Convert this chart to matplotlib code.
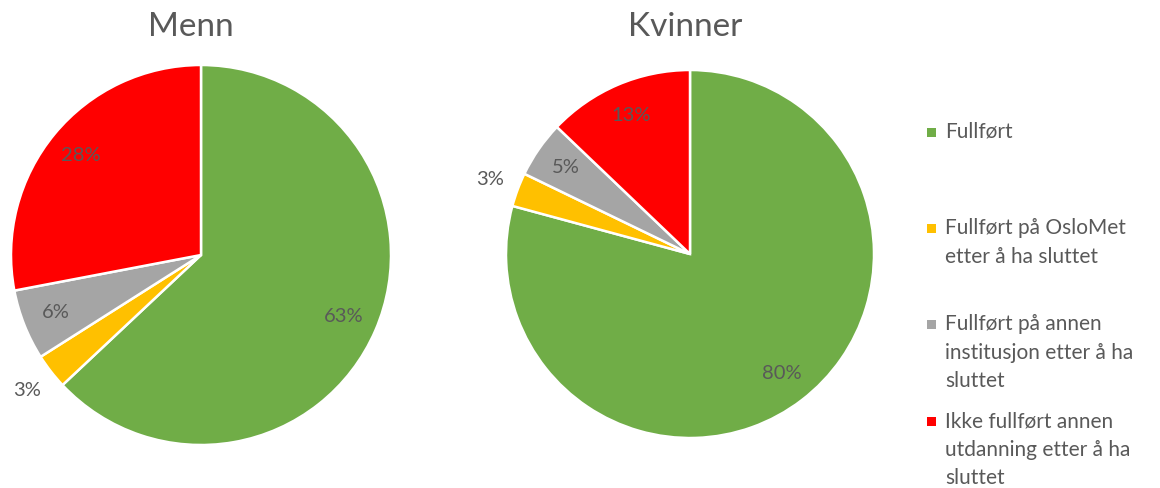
import numpy as np
import matplotlib
matplotlib.use("Agg")
import matplotlib.pyplot as plt
from matplotlib.patches import Rectangle

plt.rcParams['font.family'] = ['Lato', 'DejaVu Sans']

categories = ["Fullført",
              "Fullført på OsloMet\netter å ha sluttet",
              "Fullført på annen\ninstitusjon etter å ha\nsluttet",
              "Ikke fullført annen\nutdanning etter å ha\nsluttet"]
menn = [63, 3, 6, 28]
kvinner = [80, 3, 5, 13]
titles = ["Menn", "Kvinner"]
colors = ["#70AD47", "#FFC000", "#A5A5A5", "#FF0000"]
text_col = "#595959"

W, H = 1160, 488
fig = plt.figure(figsize=(W / 100, H / 100), dpi=100)
ax = fig.add_axes([0, 0, 1, 1])

pies = [
    (menn, (201, H - 255), 190, (191, H - 27)),
    (kvinner, (690, H - 254), 184, (685, H - 27)),
]

for (vals, center, r, tpos), title in zip(pies, titles):
    wedges, _ = ax.pie(vals, colors=colors, startangle=90, counterclock=False,
                       center=center, radius=r,
                       wedgeprops=dict(edgecolor='white', linewidth=1.8))
    for w, v in zip(wedges, vals):
        mid = np.deg2rad((w.theta1 + w.theta2) / 2)
        d = 1.16 if v < 4 else 0.82
        ax.text(center[0] + r * d * np.cos(mid), center[1] + r * d * np.sin(mid),
                f"{v}%", ha='center', va='center', fontsize=14.5, color=text_col)
    ax.text(tpos[0], tpos[1], title, ha='center', va='center', fontsize=24,
            color=text_col)

# legend
entry_y = [132, 228, 324, 421]
line_h = 28.7
for y0, lab, c in zip(entry_y, categories, colors):
    ax.add_patch(Rectangle((927, H - y0 - 4.5), 9, 9, facecolor=c, edgecolor='none'))
    for i, line in enumerate(lab.split("\n")):
        ax.text(945, H - (y0 + i * line_h), line, ha='left', va='center',
                fontsize=15, color=text_col)

ax.set_xlim(0, W)
ax.set_ylim(0, H)
ax.set_aspect('equal')
ax.axis('off')
fig.savefig("out.png", dpi=100, facecolor='white')
